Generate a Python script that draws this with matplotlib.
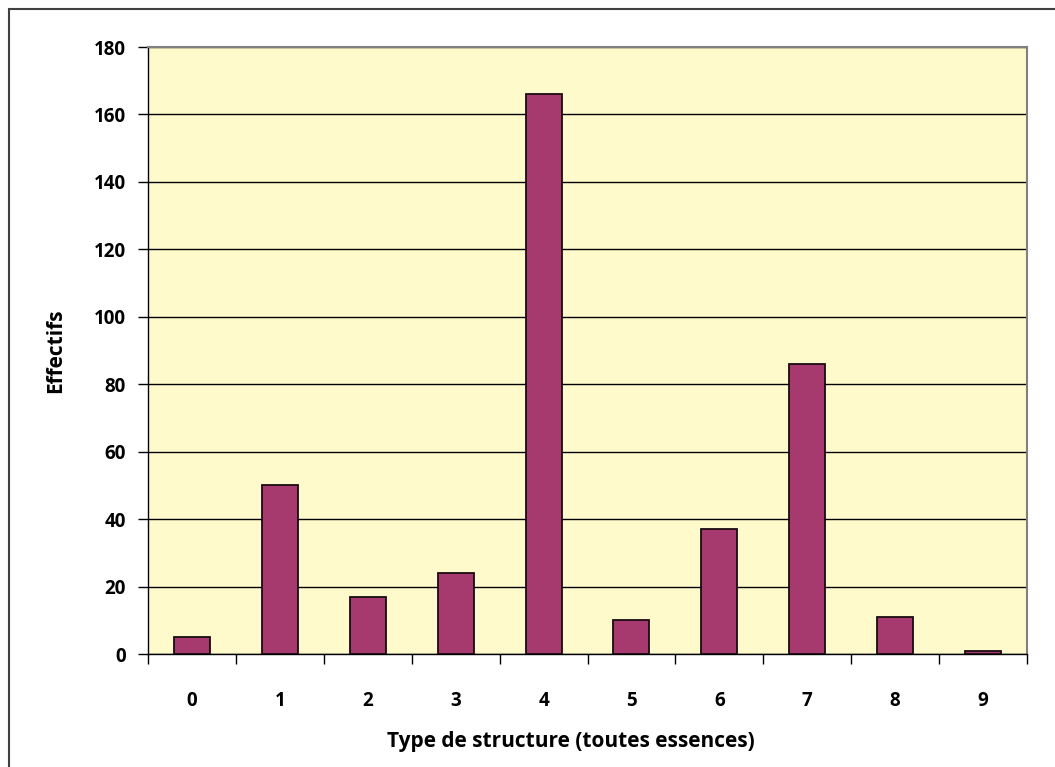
import matplotlib.pyplot as plt
from matplotlib.patches import Rectangle
from matplotlib.ticker import MultipleLocator, FixedLocator

# effectifs par type de structure
types = ['0', '1', '2', '3', '4', '5', '6', '7', '8', '9']
effectifs = [5, 50, 17, 24, 166, 10, 37, 86, 11, 1]

plt.rcParams['font.family'] = ['Open Sans', 'DejaVu Sans']

fig = plt.figure(figsize=(10.55, 7.67), dpi=100)
fig.patch.set_facecolor('white')

# cadre autour du graphique
fig.patches.append(Rectangle((9 / 1055, -0.1), 1.2, 1 - 9 / 767 + 0.1,
                             transform=fig.transFigure, fill=False,
                             edgecolor='#404040', linewidth=1.5))

ax = fig.add_axes([148 / 1055, (767 - 654) / 767, 879 / 1055, 607 / 767])
ax.set_facecolor('#FFFACC')

x = range(len(types))
ax.bar(x, effectifs, width=0.41, color='#A63A6E', edgecolor='#1a0a10',
       linewidth=1.3, zorder=3)

ax.set_xlim(-0.5, len(types) - 0.5)
ax.set_ylim(0, 180)
ax.yaxis.set_major_locator(MultipleLocator(20))
ax.grid(axis='y', color='black', linewidth=1, zorder=1)

ax.set_xticks(list(x))
ax.set_xticklabels(types)
ax.xaxis.set_minor_locator(FixedLocator([i - 0.5 for i in range(len(types) + 1)]))
ax.tick_params(axis='x', which='major', length=0, pad=27, labelsize=13.5)
ax.tick_params(axis='x', which='minor', length=7, width=1, direction='out')
ax.tick_params(axis='y', length=7, width=1, direction='out', pad=9, labelsize=13.5)
for lab in ax.get_xticklabels() + ax.get_yticklabels():
    lab.set_fontweight('bold')

for side in ['top', 'right']:
    ax.spines[side].set_color('#808080')
    ax.spines[side].set_linewidth(1.5)
for side in ['left', 'bottom']:
    ax.spines[side].set_color('black')
    ax.spines[side].set_linewidth(1)

ax.set_xlabel('Type de structure (toutes essences)', fontsize=15, fontweight='bold')
ax.xaxis.set_label_coords(0.481, -0.127)
ax.set_ylabel('Effectifs', fontsize=15, fontweight='bold', labelpad=20)

fig.savefig('out.png', dpi=100)
